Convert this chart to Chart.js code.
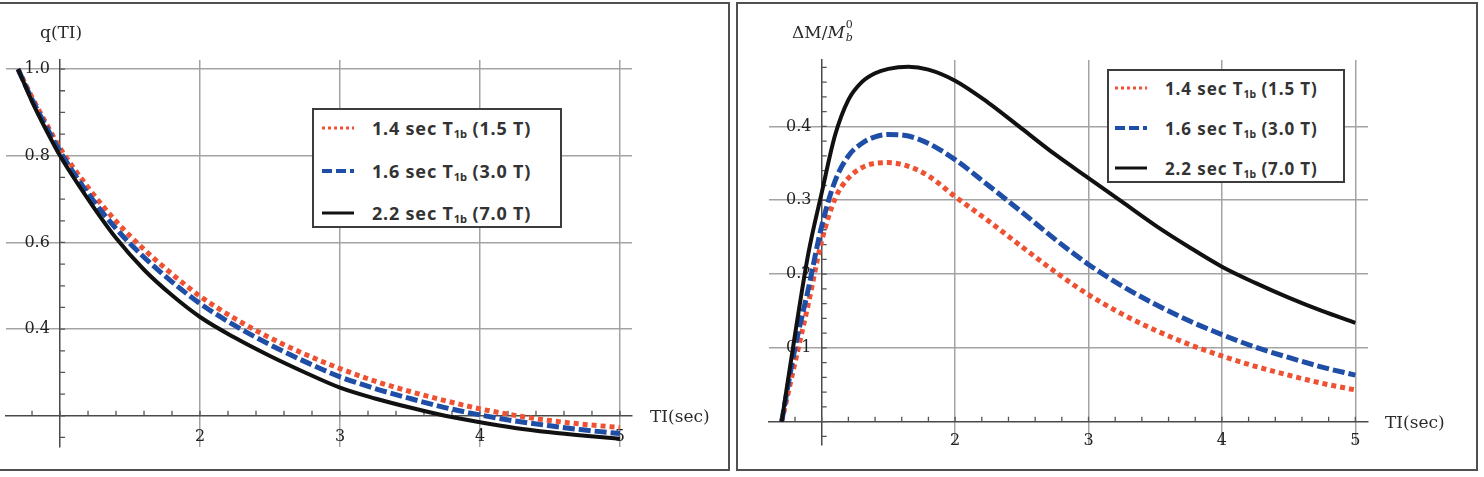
<!DOCTYPE html>
<html>
<head>
<meta charset="utf-8">
<script src="https://cdn.jsdelivr.net/npm/chart.js@4.4.1/dist/chart.umd.min.js"></script>
<style>
  body { margin: 0; width: 1484px; height: 477px; background: #fff; position: relative; overflow: hidden; font-family: 'DejaVu Serif', serif; }
  .panel { position: absolute; box-sizing: border-box; border: 2px solid #505050; }
  canvas { position: absolute; top: 0; }
  .lbl { position: absolute; font-size: 17px; color: #2a2a2a; white-space: nowrap; line-height: 1; }
  .ss { display: inline-block; position: relative; width: 9px; height: 17px; vertical-align: top; }
  .ss span { position: absolute; left: 1px; font-size: 11px; }
  .legend { position: absolute; box-sizing: border-box; border: 2px solid #3c3c3c; background: #fff;
            font-family: 'Noto Sans', sans-serif; font-weight: 700; color: #333; white-space: nowrap; }
  .legend .row { position: absolute; height: 24px; display: flex; align-items: center; }
  .legend sub { font-size: 0.62em; vertical-align: -0.25em; line-height: 0; letter-spacing: 0; }
</style>
</head>
<body>
<div class="panel" style="left:-2px;top:2px;width:732px;height:469px"></div>
<div class="panel" style="left:736px;top:2px;width:742px;height:469px"></div>
<canvas id="left" width="730" height="470" style="left:0"></canvas>
<canvas id="right" width="742" height="470" style="left:736px"></canvas>

<div class="lbl" style="left:40px;top:24px">q(TI)</div>
<div class="lbl" style="left:650px;top:408px">TI(sec)</div>
<div class="lbl" style="left:792px;top:24px">ΔM/<i>M</i><span class="ss"><span style="top:-5px">0</span><span style="top:8px;font-style:italic">b</span></span></div>
<div class="lbl" style="left:1385px;top:414px">TI(sec)</div>

<div class="legend" id="legLeft" style="left:312px;top:108px;width:250px;height:120px;font-size:18px;letter-spacing:0.8px"></div>
<div class="legend" id="legRight" style="left:1107px;top:69px;width:238px;height:114px;font-size:17px;letter-spacing:0.9px"></div>

<script>
// left panel: q(TI)
const tiLeft = [0.7, 0.8, 0.9, 1.0, 1.2, 1.4, 1.6, 1.8, 2.0, 2.25, 2.5, 2.75, 3.0, 3.25, 3.5, 3.75, 4.0, 4.25, 4.5, 4.75, 5.0];
const qRed   = [1.0, 0.935, 0.875, 0.818, 0.727, 0.649, 0.584, 0.527, 0.476, 0.424, 0.38, 0.342, 0.309, 0.28, 0.256, 0.235, 0.216, 0.201, 0.189, 0.18, 0.173];
const qBlue  = [1.0, 0.93, 0.868, 0.81, 0.713, 0.632, 0.566, 0.509, 0.459, 0.408, 0.364, 0.325, 0.29, 0.263, 0.24, 0.219, 0.202, 0.188, 0.177, 0.167, 0.159];
const qBlack = [1.0, 0.925, 0.86, 0.80, 0.70, 0.61, 0.537, 0.478, 0.428, 0.38, 0.338, 0.30, 0.265, 0.24, 0.219, 0.2, 0.185, 0.172, 0.162, 0.154, 0.147];

// right panel: dM / Mb0
const tiRight = [0.7, 0.8, 0.9, 1.0, 1.1, 1.2, 1.3, 1.4, 1.5, 1.65, 1.8, 2.0, 2.25, 2.5, 2.75, 3.0, 3.25, 3.5, 3.75, 4.0, 4.25, 4.5, 4.75, 5.0];
const dmRed   = [0, 0.08, 0.16, 0.245, 0.302, 0.33, 0.344, 0.35, 0.351, 0.346, 0.333, 0.305, 0.272, 0.237, 0.203, 0.172, 0.146, 0.124, 0.105, 0.089, 0.075, 0.063, 0.052, 0.043];
const dmBlue  = [0, 0.1, 0.18, 0.265, 0.326, 0.36, 0.377, 0.386, 0.389, 0.387, 0.377, 0.355, 0.32, 0.284, 0.247, 0.213, 0.184, 0.159, 0.137, 0.118, 0.101, 0.087, 0.074, 0.063];
const dmBlack = [0, 0.118, 0.228, 0.31, 0.388, 0.436, 0.46, 0.472, 0.478, 0.481, 0.477, 0.462, 0.432, 0.397, 0.362, 0.33, 0.298, 0.266, 0.237, 0.21, 0.188, 0.168, 0.15, 0.134];

const xTicks = [2, 3, 4, 5];
const yTicksLeft = [0.4, 0.6, 0.8, 1.0];
const yTicksRight = [0.1, 0.2, 0.3, 0.4];
const legendLabels = ['1.4 sec T<sub>1b</sub> (1.5 T)', '1.6 sec T<sub>1b</sub> (3.0 T)', '2.2 sec T<sub>1b</sub> (7.0 T)'];

const colors = ['#ee5233', '#1f4ea6', '#111111'];
const widths = [5, 5, 4];
const dashes = [[5, 4], [12, 4], []];

// small tick marks between the major grid lines
const minorTicks = {
  id: 'minorTicks',
  beforeDatasetsDraw(chart, args, o) {
    const { ctx, scales: { x, y } } = chart;
    const ax = x.getPixelForValue(1), ay = y.getPixelForValue(o.axisY);
    ctx.save();
    ctx.strokeStyle = '#555';
    ctx.lineWidth = 1.3;
    ctx.beginPath();
    for (let k = Math.ceil(x.min / o.xStep); k * o.xStep <= x.max; k++) {
      const px = x.getPixelForValue(k * o.xStep);
      ctx.moveTo(px, ay); ctx.lineTo(px, ay - o.len);
    }
    for (let k = Math.ceil(y.min / o.yStep); k * o.yStep <= y.max; k++) {
      const py = y.getPixelForValue(k * o.yStep);
      ctx.moveTo(ax, py); ctx.lineTo(ax + o.len, py);
    }
    ctx.stroke();
    ctx.restore();
  }
};

function makeChart(id, t, series, s) {
  const font = { family: 'DejaVu Serif', size: 16 };
  return new Chart(document.getElementById(id), {
    type: 'line',
    data: {
      datasets: series.map((vals, i) => ({
        data: t.map((x, j) => ({ x, y: vals[j] })),
        borderColor: colors[i],
        borderWidth: widths[i],
        borderDash: dashes[i],
        borderCapStyle: 'butt',
        pointRadius: 0,
        cubicInterpolationMode: 'monotone',
        fill: false,
        order: 3 - i
      }))
    },
    options: {
      responsive: false,
      animation: false,
      devicePixelRatio: 1,
      layout: { padding: s.pad },
      plugins: {
        legend: { display: false },
        tooltip: { enabled: false },
        minorTicks: { axisY: s.axisY, xStep: 0.2, yStep: s.yStep, len: 5 }
      },
      scales: {
        x: {
          type: 'linear', min: s.xMin, max: s.xMax, position: { y: s.axisY },
          afterBuildTicks: sc => { sc.ticks = xTicks.map(v => ({ value: v })); },
          grid: { color: '#a3a3a3', lineWidth: 1.5, drawTicks: false },
          border: { color: '#4a4a4a', width: 1.5 },
          ticks: { font, color: '#222', padding: s.xPad }
        },
        y: {
          type: 'linear', min: s.yMin, max: s.yMax, position: { x: 1 },
          afterBuildTicks: sc => { sc.ticks = s.yTicks.map(v => ({ value: v })); },
          grid: { color: '#a3a3a3', lineWidth: 1.5, drawTicks: false },
          border: { color: '#4a4a4a', width: 1.5 },
          ticks: { font, color: '#222', callback: v => v.toFixed(1) + '  ' }
        }
      }
    },
    plugins: [minorTicks]
  });
}

makeChart('left', tiLeft, [qRed, qBlue, qBlack], {
  pad: { left: 6, right: 98, top: 60, bottom: 23 },
  xMin: 0.614, xMax: 5.086, yMin: 0.128, yMax: 1.021,
  axisY: 0.2, yStep: 0.05, yTicks: yTicksLeft, xPad: 11
});

makeChart('right', tiRight, [dmRed, dmBlue, dmBlack], {
  pad: { left: 33, right: 110, top: 60, bottom: 25 },
  xMin: 0.605, xMax: 5.095, yMin: -0.0316, yMax: 0.490,
  axisY: 0, yStep: 0.02, yTicks: yTicksRight, xPad: 10
});

// html legends (subscripts need real markup)
function buildLegend(id, rowTops, sampleLeft, textLeft) {
  const box = document.getElementById(id);
  legendLabels.forEach((label, i) => {
    const row = document.createElement('div');
    row.className = 'row';
    row.style.top = rowTops[i] + 'px';
    row.style.left = sampleLeft + 'px';
    const dash = dashes[i].length ? (i === 0 ? '3 3' : '10 4') : 'none';
    row.innerHTML =
      `<svg width="32" height="10"><line x1="0" y1="5" x2="32" y2="5" stroke="${colors[i]}" ` +
      `stroke-width="${i === 1 ? 4 : 3}" stroke-dasharray="${dash}"/></svg>` +
      `<span style="margin-left:${textLeft - sampleLeft - 32}px">${label}</span>`;
    box.appendChild(row);
  });
}
buildLegend('legLeft', [6, 49, 91], 8, 58);
buildLegend('legRight', [5, 45, 85], 6, 56);
</script>
</body>
</html>
